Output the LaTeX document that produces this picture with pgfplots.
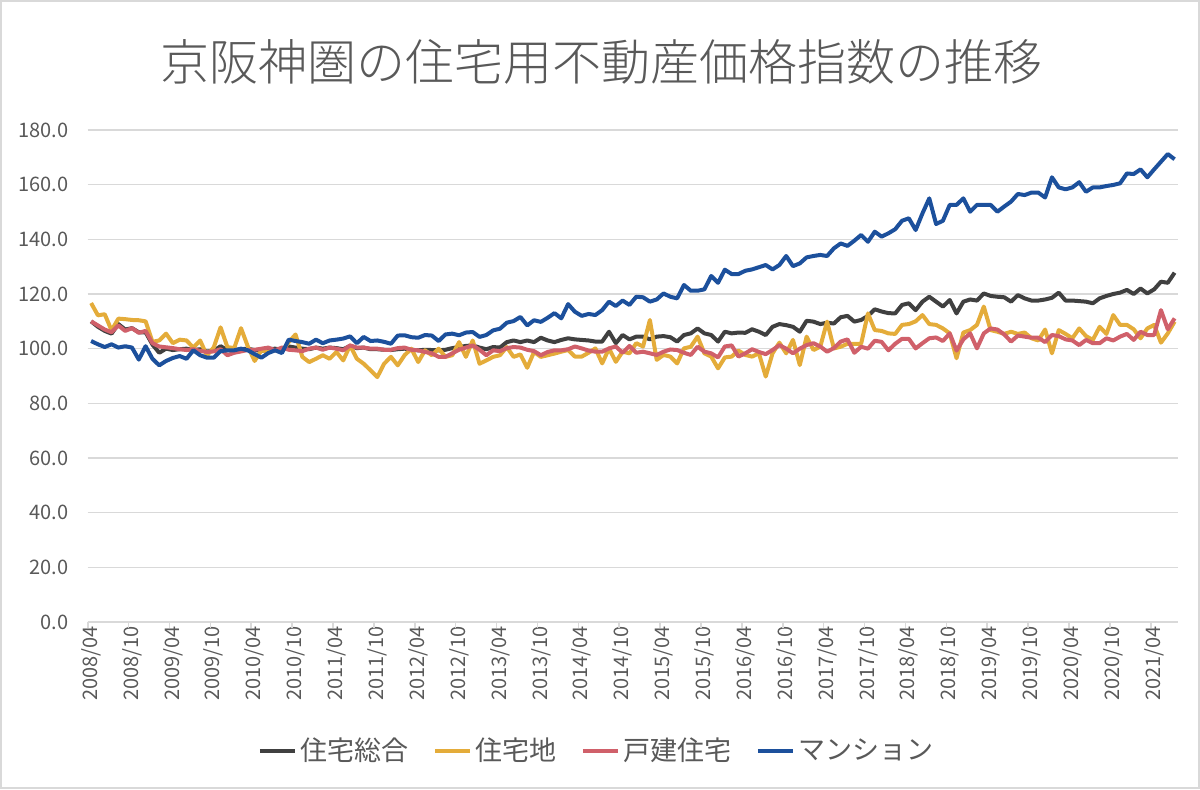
\documentclass[border=0pt]{standalone}
\usepackage{fontspec}
\setmainfont{Noto Sans CJK JP}
\newfontfamily\titlefont{Noto Sans CJK JP}[UprightFont=* Light]
\usepackage{pgfplots}
\pgfplotsset{compat=1.18}
\usepackage{pgfplotstable}
\definecolor{csogo}{RGB}{64,64,64}
\definecolor{ctakuchi}{RGB}{228,172,58}
\definecolor{ckodate}{RGB}{208,96,106}
\definecolor{cmansion}{RGB}{28,80,156}
\definecolor{textgray}{RGB}{89,89,89}
\definecolor{gridgray}{RGB}{217,217,217}
\pgfplotstableread{
i sogo takuchi kodate mansion
0 110.0 116.7 110.0 102.8
1 108.0 112.2 108.5 101.6
2 106.5 112.6 107.0 100.6
3 105.5 106.7 106.0 101.6
4 109.0 111.0 108.5 100.4
5 107.0 110.8 106.5 100.9
6 107.5 110.5 107.5 100.4
7 106.0 110.4 105.8 96.0
8 106.0 110.0 106.5 100.9
9 101.5 102.5 102.0 96.3
10 98.5 103.0 100.8 93.9
11 100.0 105.5 100.5 95.5
12 99.5 102.0 100.2 96.6
13 99.8 103.3 99.8 97.3
14 100.0 103.0 99.5 96.3
15 99.5 100.4 99.8 99.4
16 99.8 103.0 99.2 97.6
17 99.0 97.5 98.8 96.7
18 99.2 100.5 99.0 96.7
19 100.9 107.8 99.8 99.1
20 99.5 100.6 97.6 99.4
21 99.5 100.2 98.5 99.4
22 99.8 107.5 99.0 100.0
23 100.0 100.8 99.5 99.4
24 99.5 95.5 99.6 98.0
25 99.2 99.4 100.0 96.7
26 99.8 98.8 100.4 98.4
27 100.0 99.4 99.4 99.4
28 99.6 99.1 100.4 98.4
29 100.8 102.4 99.6 103.3
30 100.4 105.2 99.4 102.8
31 100.0 97.0 99.1 102.4
32 99.8 95.1 100.0 101.8
33 100.4 96.3 100.4 103.3
34 100.0 97.6 99.6 102.0
35 100.4 96.3 100.4 103.0
36 100.2 98.8 100.0 103.3
37 99.8 95.7 99.4 103.7
38 101.0 101.2 101.2 104.5
39 100.2 96.3 100.4 102.0
40 100.4 94.5 100.4 104.3
41 99.8 92.1 100.0 102.8
42 99.8 89.6 100.0 103.0
43 99.6 94.5 99.6 102.5
44 99.5 97.0 99.6 101.8
45 99.8 93.9 100.2 104.8
46 100.0 97.6 100.4 104.9
47 99.6 100.0 99.6 104.2
48 99.4 95.1 99.4 104.0
49 99.6 99.4 98.8 105.0
50 99.5 97.6 98.3 104.8
51 99.4 100.0 97.0 102.8
52 99.6 97.0 97.0 105.2
53 100.2 97.6 98.3 105.5
54 100.6 102.4 99.6 104.9
55 101.0 97.0 100.4 105.9
56 101.2 103.0 101.2 106.1
57 100.4 94.5 99.6 104.3
58 99.8 95.7 97.6 105.0
59 100.6 97.0 99.4 106.7
60 100.4 97.6 99.1 107.3
61 102.4 100.6 100.2 109.5
62 103.0 97.0 100.6 110.1
63 102.4 97.9 100.4 111.6
64 103.0 93.0 99.6 108.5
65 102.4 98.8 99.1 110.4
66 104.0 97.0 97.6 109.8
67 103.0 97.6 98.8 111.3
68 102.4 98.2 99.4 113.0
69 103.2 98.9 99.4 111.1
70 103.8 99.5 99.8 116.3
71 103.4 97.1 100.8 113.5
72 103.2 97.1 100.1 112.0
73 103.0 98.5 99.3 112.7
74 102.6 100.1 98.9 112.3
75 102.6 94.6 98.9 114.1
76 106.2 100.1 100.1 117.2
77 102.0 95.2 100.8 115.6
78 105.0 98.9 98.5 117.6
79 103.4 98.3 101.0 116.0
80 104.4 102.0 98.5 119.0
81 104.4 100.8 98.9 118.8
82 103.4 110.5 98.3 117.2
83 104.4 95.9 97.7 118.0
84 104.6 97.7 98.9 120.2
85 104.2 97.1 99.7 119.0
86 102.6 94.6 99.5 118.4
87 105.0 100.1 98.5 123.3
88 105.6 100.7 97.7 121.2
89 107.4 104.4 100.7 121.2
90 105.6 98.3 98.9 121.7
91 105.0 97.1 98.3 126.6
92 102.6 92.8 96.8 124.1
93 106.2 96.8 100.8 128.9
94 105.6 97.1 101.2 127.3
95 105.9 99.3 97.1 127.3
96 105.8 97.7 98.3 128.5
97 107.1 97.1 99.8 129.0
98 106.2 98.3 98.8 129.8
99 105.0 89.8 98.0 130.6
100 108.0 98.3 99.5 129.0
101 109.0 102.2 101.3 130.6
102 108.6 98.3 100.0 133.9
103 108.0 103.2 98.3 130.2
104 106.2 94.0 100.0 131.2
105 110.2 104.4 101.3 133.4
106 109.9 99.5 102.0 133.9
107 109.0 100.7 100.8 134.3
108 109.5 109.9 98.9 133.9
109 109.2 100.1 100.2 136.7
110 111.5 100.7 102.6 138.5
111 112.0 101.8 103.4 137.6
112 109.9 101.8 98.5 139.5
113 110.5 101.8 100.7 141.6
114 112.0 112.9 100.0 139.1
115 114.4 106.8 102.9 142.8
116 113.6 106.5 102.5 141.0
117 113.0 105.6 99.4 142.2
118 112.9 105.4 101.8 143.7
119 116.0 108.7 103.6 146.8
120 116.6 109.0 103.6 147.7
121 114.1 110.0 100.1 143.4
122 117.2 112.3 102.0 149.5
123 119.0 109.0 103.8 155.0
124 117.2 108.7 104.1 145.6
125 115.4 107.4 102.8 146.8
126 117.8 105.6 105.6 152.6
127 112.9 96.5 99.3 152.6
128 117.2 105.9 103.4 155.0
129 118.0 106.8 105.6 150.1
130 117.6 108.7 100.1 152.6
131 120.2 115.4 105.6 152.6
132 119.3 106.8 107.4 152.6
133 119.0 106.2 107.0 150.1
134 118.8 105.4 105.2 152.0
135 117.2 106.2 102.6 153.8
136 119.6 105.4 104.8 156.6
137 118.4 105.9 104.4 156.2
138 117.6 103.8 104.0 157.1
139 117.6 103.0 104.0 157.1
140 118.0 107.0 102.4 155.3
141 118.6 98.3 105.0 162.7
142 120.5 106.8 104.6 159.0
143 117.6 105.4 103.4 158.3
144 117.6 103.8 103.0 159.0
145 117.4 107.4 101.3 160.9
146 117.2 104.6 103.2 157.4
147 116.6 103.2 102.0 159.0
148 118.4 108.0 102.0 159.0
149 119.3 105.4 103.8 159.5
150 120.0 112.3 103.0 159.9
151 120.5 108.7 104.4 160.5
152 121.5 108.7 105.4 164.1
153 120.0 107.1 103.2 163.9
154 122.0 103.8 106.2 165.6
155 120.2 107.4 105.0 162.7
156 121.7 108.7 105.0 165.6
157 124.5 102.2 114.1 168.4
158 124.1 105.6 107.1 171.2
159 127.8 109.9 111.1 169.3
}\data
\begin{document}
\begin{tikzpicture}
\useasboundingbox (0,0) rectangle (600pt,394.5pt);
\draw[gridgray, line width=0.8pt] (0.4pt,0.4pt) rectangle (599.6pt,394.1pt);
\node[text=textgray, font=\titlefont\fontsize{24.5}{29}\selectfont] at (300.5pt,363.5pt) {京阪神圏の住宅用不動産価格指数の推移};
\begin{axis}[
  at={(43.85pt,83.5pt)}, anchor=south west, scale only axis,
  width=545.15pt, height=246pt,
  xmin=-0.5, xmax=159.5, ymin=0, ymax=180,
  axis x line*=bottom, axis y line*=left,
  x axis line style={draw=gridgray, line width=0.8pt, -},
  y axis line style={draw=none},
  ytick={0,20,...,180},
  ytick style={draw=none},
  ymajorgrids, grid style={gridgray, line width=0.7pt},
  xtick={0,6,...,156},
  xticklabels={2008/04,2008/10,2009/04,2009/10,2010/04,2010/10,2011/04,2011/10,2012/04,2012/10,2013/04,2013/10,2014/04,2014/10,2015/04,2015/10,2016/04,2016/10,2017/04,2017/10,2018/04,2018/10,2019/04,2019/10,2020/04,2020/10,2021/04},
  xtick style={draw=none},
  extra x ticks={-0.5,5.5,11.5,17.5,23.5,29.5,35.5,41.5,47.5,53.5,59.5,65.5,71.5,77.5,83.5,89.5,95.5,101.5,107.5,113.5,119.5,125.5,131.5,137.5,143.5,149.5,155.5},
  extra x tick labels={},
  extra x tick style={tick align=outside, major tick length=3pt, xtick style={draw=gridgray, line width=0.8pt}},
  tick label style={font=\fontsize{10}{12}\selectfont, text=textgray},
  xticklabel style={rotate=90, anchor=east, inner sep=2pt},
  yticklabel style={anchor=east, xshift=-6pt},
  /pgf/number format/.cd, fixed, fixed zerofill, precision=1, assume math mode=true,
  /pgfplots/.cd,
  no markers,
  every axis plot/.append style={line width=2pt, line join=round},
  legend style={at={(0.468,-0.262)}, anchor=center, draw=none, fill=none,
    legend columns=4, font=\fontsize{13.5}{16}\selectfont, text=textgray,
    /tikz/every even column/.append style={column sep=10pt}},
  legend image code/.code={\draw[#1, line width=2pt] (0pt,0pt) -- (17.5pt,0pt);},
]
\addplot[csogo] table[x=i, y=sogo] {\data};
\addlegendentry{住宅総合}
\addplot[ctakuchi] table[x=i, y=takuchi] {\data};
\addlegendentry{住宅地}
\addplot[ckodate] table[x=i, y=kodate] {\data};
\addlegendentry{戸建住宅}
\addplot[cmansion] table[x=i, y=mansion] {\data};
\addlegendentry{マンション}
\end{axis}
\end{tikzpicture}
\end{document}
